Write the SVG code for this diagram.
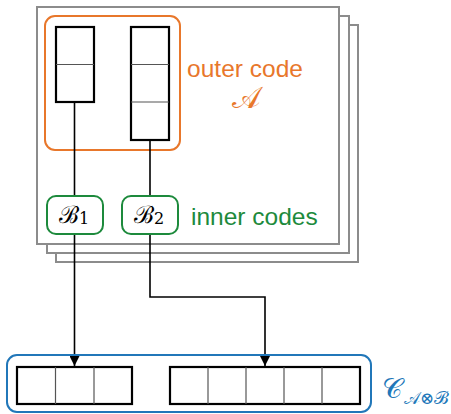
<svg xmlns="http://www.w3.org/2000/svg" width="451" height="414" viewBox="0 0 451 414">
  <style>
    .page { fill: #ffffff; stroke: #8c8c8c; stroke-width: 2; }
    .col { fill: #ffffff; stroke: #000000; stroke-width: 2.2; }
    .div { stroke: #555555; stroke-width: 1.2; fill: none; }
    .wire { stroke: #000000; stroke-width: 1.6; fill: none; }
    .orange { fill: none; stroke: #e8772b; stroke-width: 2; }
    .green { fill: #ffffff; stroke: #1d8a3c; stroke-width: 2; }
    .blue { fill: none; stroke: #2177b9; stroke-width: 2; }
    .sans { font-family: "Liberation Sans", Arial, sans-serif; }
    .math { font-family: "DejaVu Serif", "Liberation Serif", serif; }
  </style>
  <defs>
    <marker id="arrow" viewBox="0 0 10 10" refX="10" refY="5" markerWidth="11" markerHeight="10" markerUnits="userSpaceOnUse" orient="auto">
      <path d="M0,0 L10,5 L0,10 Z" fill="#000000"/>
    </marker>
  </defs>

  <!-- stacked pages, back to front -->
  <g id="pages">
    <rect class="page" x="56" y="25" width="302" height="237"/>
    <rect class="page" x="47" y="16" width="302" height="237"/>
    <rect class="page" x="37" y="7" width="302" height="237"/>
  </g>

  <!-- outer code A -->
  <g id="outer-code">
    <rect class="orange" x="45" y="16" width="135" height="134" rx="10"/>
    <text class="sans" x="245" y="77" font-size="24.5" fill="#e8772b" text-anchor="middle">outer code</text>
    <text class="math" x="246" y="108" font-size="30" fill="#e8772b" text-anchor="middle">𝒜</text>
  </g>

  <g id="column-1">
    <rect class="col" x="56" y="27" width="38" height="75"/>
    <line class="div" x1="56" y1="64.5" x2="94" y2="64.5"/>
  </g>

  <g id="column-2">
    <rect class="col" x="131" y="27" width="38" height="113"/>
    <line class="div" x1="131" y1="64.5" x2="169" y2="64.5"/>
    <line class="div" x1="131" y1="102" x2="169" y2="102"/>
  </g>

  <!-- connectors -->
  <g id="connectors">
    <line class="wire" x1="74.5" y1="102" x2="74.5" y2="196"/>
    <line class="wire" x1="150" y1="140" x2="150" y2="196"/>
    <line class="wire" x1="74.5" y1="234" x2="74.5" y2="366" marker-end="url(#arrow)"/>
    <polyline class="wire" points="150,234 150,297 265,297 265,366" marker-end="url(#arrow)"/>
  </g>

  <g id="inner-code-1">
    <rect class="green" x="47" y="196" width="56" height="38" rx="9"/>
    <text class="math" x="59" y="223" font-size="24" fill="#000000">ℬ<tspan font-size="16" dy="1">1</tspan></text>
  </g>

  <g id="inner-code-2">
    <rect class="green" x="122" y="196" width="56" height="38" rx="9"/>
    <text class="math" x="134" y="223" font-size="24" fill="#000000">ℬ<tspan font-size="16" dy="1">2</tspan></text>
  </g>

  <text class="sans" x="191" y="225" font-size="24.5" fill="#1d8a3c">inner codes</text>

  <!-- concatenated code -->
  <g id="product-code">
    <rect class="blue" x="7" y="355" width="364" height="57" rx="10"/>
    <g id="block-1">
      <rect class="col" x="17" y="367" width="115" height="37"/>
      <line class="div" x1="55.5" y1="367" x2="55.5" y2="404"/>
      <line class="div" x1="94" y1="367" x2="94" y2="404"/>
    </g>
    <g id="block-2">
      <rect class="col" x="170" y="367" width="190" height="37"/>
      <line class="div" x1="208" y1="367" x2="208" y2="404"/>
      <line class="div" x1="246" y1="367" x2="246" y2="404"/>
      <line class="div" x1="284" y1="367" x2="284" y2="404"/>
      <line class="div" x1="322" y1="367" x2="322" y2="404"/>
    </g>
    <text class="math" x="382" y="398" font-size="28" fill="#2177b9">𝒞</text>
    <text class="math" x="404" y="404" font-size="17" fill="#2177b9" textLength="44" lengthAdjust="spacingAndGlyphs">𝒜⊗ℬ</text>
  </g>
</svg>
